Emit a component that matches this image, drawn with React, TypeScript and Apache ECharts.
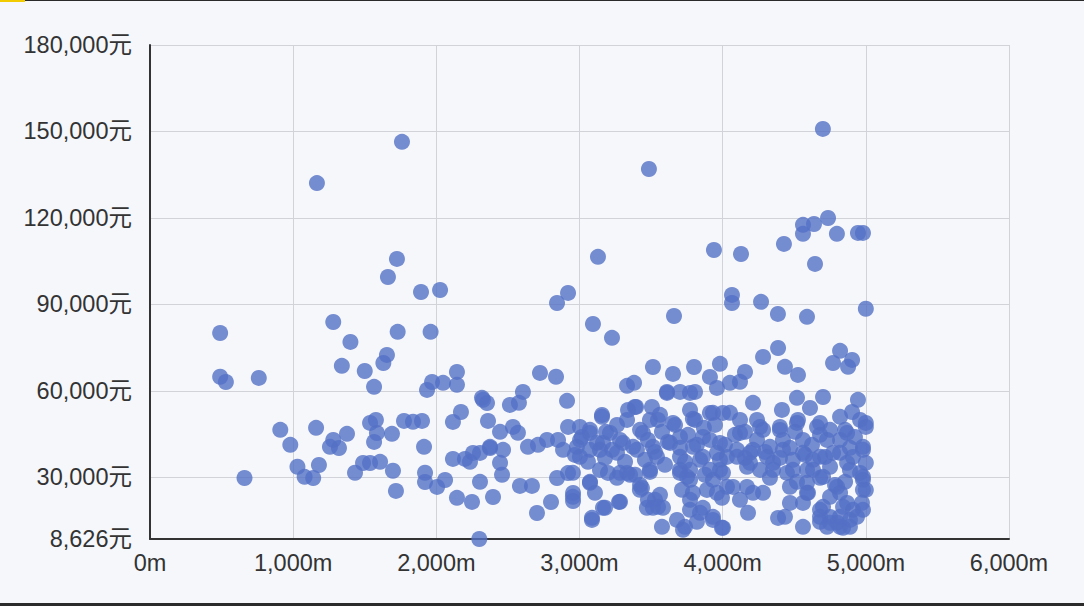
import React, { useEffect, useRef } from "react";
import * as echarts from "echarts";

// [distance (m), salary (元)]
const pointsUnder2000: number[][] = [
  [490, 80100], [490, 64900], [530, 63100], [760, 64500], [660, 29800], [910, 46500], [980, 41300],
  [1030, 33700], [1080, 30200], [1140, 29800], [1180, 34300], [1160, 47200], [1166, 132100], [1280, 83900],
  [1400, 77000], [1340, 68700], [1500, 66900], [1630, 69700], [1655, 72500], [1730, 80500], [1960, 80500],
  [1565, 61400], [1280, 43000], [1257, 40600], [1320, 40200], [1376, 45100], [1537, 48900], [1578, 49950],
  [1585, 45400], [1565, 42300], [1690, 45100], [1432, 31600], [1488, 35000], [1537, 35000], [1607, 35400],
  [1697, 32300], [1718, 25300], [1774, 49600], [1837, 49300], [1900, 49600], [1914, 40600], [1921, 31600],
  [1921, 28400], [1935, 60350], [1970, 63100], [1760, 146400], [1725, 105800], [1662, 99500], [1893, 94300],
];

const points2000to3000: number[][] = [
  [2005, 26700], [2061, 29100], [2144, 22900], [2249, 21500], [2300, 8626], [2305, 28450], [2396, 23200],
  [2047, 62800], [2144, 66600], [2144, 62100], [2319, 57600], [2354, 55800], [2172, 52700], [2116, 49250],
  [2361, 49600], [2116, 36400], [2200, 36400], [2256, 38500], [2305, 38500], [2375, 40200], [2235, 35400],
  [2026, 95000], [2843, 90500], [2920, 94000], [2724, 66250], [2836, 64900], [2605, 59650], [2514, 55150],
  [2577, 55850], [2913, 56550], [2326, 56900], [2920, 47500], [2773, 43000], [2710, 41300], [2640, 40600],
  [2466, 39550], [2375, 40600], [2445, 45800], [2535, 47500], [2570, 45450], [2885, 39550], [2445, 35050],
  [2459, 30900], [2584, 27050], [2668, 27050], [2703, 17650], [2801, 21450], [2843, 29800], [2920, 31500],
  [2955, 24600], [2955, 21800], [2850, 43000], [2968, 37800], [2954, 23250], [2954, 31570], [2982, 40590],
];

const points3000to4000: number[][] = [
  [3004, 43000], [3073, 46500], [3073, 39550], [3094, 83200], [3227, 78400], [3660, 86000], [3485, 137000],
  [3129, 106500], [3939, 108900], [3513, 68300], [3653, 65900], [3800, 68300], [3981, 69400], [3911, 64850],
  [3960, 61050], [3332, 61750], [3381, 62800], [3611, 59650], [3702, 59650], [3807, 59650], [3395, 54450],
  [3506, 54450], [3157, 51000], [3332, 49950], [3792, 50300], [3932, 52400], [3073, 28450], [3108, 24650],
  [3087, 15250], [3178, 19450], [3276, 21500], [3199, 31550], [3332, 31550], [3436, 26350], [3492, 31900],
  [3562, 23950], [3513, 19450], [3583, 19450], [3576, 12850], [3681, 15250], [3723, 11800], [3702, 31550],
  [3772, 29150], [3792, 24650], [3890, 25650], [3772, 18750], [3842, 17700], [3932, 15250], [3932, 29150],
  [3960, 38500], [3017, 44050], [3122, 41950], [3185, 45800], [3227, 39550], [3283, 43000], [3374, 40600],
  [3423, 46500], [3478, 43000], [3527, 38850], [3576, 45800], [3618, 42300], [3667, 48200], [3702, 40250],
  [3758, 44750], [3820, 41300], [3869, 47200], [3911, 43000], [3842, 36100], [3737, 35400], [3597, 34350],
  [3457, 36100], [3318, 35400], [3178, 36750], [3059, 35400], [3262, 48200], [3492, 49950], [3772, 53400],
  [3562, 51700], [3339, 53400], [3946, 48200], [3876, 30900], [3995, 22900], [3772, 22200], [3478, 22200],
  [3388, 30900], [3262, 29850], [3423, 27400], [3143, 32600], [3981, 32600],
];

const denseBand3000to4000: number[][] = [
  [3164, 19430], [3087, 15960], [3283, 21510], [3422, 25670], [3527, 22210], [3471, 19430], [3548, 19780],
  [3737, 12840], [3862, 19430], [3820, 14580], [3932, 16310], [3995, 12500], [3716, 25670], [3751, 30180],
  [3702, 32610], [3960, 24630], [3073, 28100], [3283, 31570], [3353, 30880], [3492, 32610], [3387, 54460],
  [3611, 59310], [3772, 59310], [3157, 51680], [3548, 49950], [3653, 48910], [3807, 49950], [3911, 52380],
  [3003, 47520], [3073, 45440], [3213, 45440], [3443, 45440], [3702, 44050], [3862, 44050], [3981, 41970],
  [3164, 41970], [3304, 41970], [3513, 40590], [3632, 41970], [3793, 40590], [3003, 37120], [3143, 39550],
  [3262, 38510], [3401, 39550], [3541, 37120], [3702, 37120], [3862, 37120], [3981, 36080], [3772, 32610],
  [3911, 32610],
];

const points4000to5000: number[][] = [
  [4002, 12500], [4128, 107500], [4428, 111000], [4561, 117600], [4561, 114500], [4638, 117900],
  [4736, 120000], [4798, 114500], [4945, 114800], [4980, 114800], [4645, 104050], [4065, 93300], [4065, 90500],
  [4268, 90900], [4386, 86700], [4589, 85700], [5000, 88500], [4700, 150900], [4051, 62800], [4051, 52400],
  [4387, 74900], [4282, 71800], [4435, 68350], [4526, 65550], [4820, 73900], [4771, 69700], [4904, 70750],
  [4876, 68350], [4156, 66600], [4121, 63150], [4519, 57600], [4701, 57900], [4945, 56900], [4212, 55850],
  [4414, 53400], [4610, 54100], [4820, 51000], [4904, 52700], [4960, 49950], [5000, 47500], [4240, 49950],
  [4156, 45800], [4282, 46500], [4400, 47500], [4526, 49950], [4680, 48900], [4750, 46500], [4855, 46500],
  [4980, 40600], [4561, 43000], [4421, 43000], [4330, 40600], [4212, 39550], [4100, 39550], [4030, 37100],
  [4191, 35050], [4352, 35050], [4491, 36100], [4631, 36100], [4771, 38500], [4910, 37100], [5000, 35050],
  [4261, 32600], [4449, 31550], [4589, 32600], [4701, 30200], [4960, 31550], [4072, 26700], [4170, 26700],
  [4212, 24650], [4121, 22200], [4282, 24650], [4177, 17700], [4470, 21150], [4561, 21150], [4596, 24650],
  [4785, 27400], [4820, 24650], [4680, 18750], [4750, 16300], [4869, 21150], [4910, 18750], [4889, 15250],
  [4799, 14250], [5000, 25650], [4980, 29150], [4387, 15950], [4561, 12850], [4680, 14600], [4729, 12850],
  [4841, 12500], [4980, 18750], [4820, 12850], [4750, 14250], [4589, 24650], [4016, 41300], [4086, 44750],
  [4121, 49950], [4240, 43000], [4296, 38850], [4470, 40250], [4505, 45800], [4624, 41300], [4680, 44750],
  [4820, 43000], [4889, 40250], [4924, 44050], [4715, 37100], [4575, 37800], [4400, 36750], [4156, 36750],
  [4330, 29850], [4519, 28450], [4889, 32600], [4855, 28450],
];

const denseBand4000to5000: number[][] = [
  [4030, 26710], [4002, 31570], [4002, 52380], [4121, 45440], [4261, 47520], [4400, 46480], [4519, 48910],
  [4659, 47520], [4729, 43010], [4869, 45440], [5000, 48910], [4100, 37120], [4191, 38510], [4310, 37120],
  [4421, 39550], [4561, 38510], [4680, 37120], [4820, 38510], [4980, 39550], [4170, 33650], [4352, 32610],
  [4491, 32610], [4631, 32610], [4750, 33650], [4869, 35040], [4980, 30180], [4470, 26710], [4589, 28100],
  [4680, 29840], [4799, 26710], [4980, 25670], [4701, 19780], [4750, 23250], [4841, 19780], [4435, 16310],
  [4680, 16310], [4820, 16310], [4889, 12840], [4938, 16310], [4973, 21170],
];

const xMin = 0;
const xMax = 6000;
const xInterval = 1000;
const yMin = 8626;
const yMax = 180000;

const FONT = "'Liberation Sans', Arial, 'Noto Sans CJK SC', sans-serif";

export default function App() {
  const ref = useRef<HTMLDivElement>(null);

  useEffect(() => {
    if (!ref.current) return;
    const chart = echarts.init(ref.current, undefined, { renderer: "svg" });
    const data = [
      ...pointsUnder2000,
      ...points2000to3000,
      ...points3000to4000,
      ...denseBand3000to4000,
      ...points4000to5000,
      ...denseBand4000to5000,
    ];
    chart.setOption({
      animation: false,
      backgroundColor: "#f5f7fb",
      grid: { left: 150, right: 75, top: 45, bottom: 67, containLabel: false },
      xAxis: {
        type: "value",
        min: xMin,
        max: xMax,
        interval: xInterval,
        axisLine: { show: true, lineStyle: { color: "#333", width: 2 } },
        axisTick: { show: false },
        splitLine: { show: true, lineStyle: { color: "#d2d3d8", width: 1 } },
        axisLabel: {
          color: "#333",
          fontSize: 23.5,
          fontFamily: FONT,
          margin: 12,
          formatter: (v: number) => v.toLocaleString("en-US") + "m",
        },
      },
      yAxis: {
        type: "value",
        min: yMin,
        max: yMax,
        splitNumber: 6,
        axisLine: { show: true, lineStyle: { color: "#333", width: 2 } },
        axisTick: { show: false },
        splitLine: { show: true, lineStyle: { color: "#d2d3d8", width: 1 } },
        axisLabel: {
          color: "#333",
          fontSize: 23.5,
          fontFamily: FONT,
          margin: 18,
          formatter: (v: number) => v.toLocaleString("en-US") + "元",
        },
      },
      series: [
        {
          type: "scatter",
          data,
          symbolSize: 16,
          itemStyle: { color: "#5470c6", opacity: 0.8 },
        },
      ],
      graphic: [
        { type: "rect", left: 0, top: 0, shape: { width: 1084, height: 1 }, style: { fill: "#2a2a2a" } },
        { type: "rect", left: 0, top: 0, shape: { width: 25, height: 2 }, style: { fill: "#f2cc00" } },
        { type: "rect", left: 0, top: 603, shape: { width: 1084, height: 3 }, style: { fill: "#2b2b2b" } },
      ],
    });
    return () => chart.dispose();
  }, []);

  return (
    <div
      ref={ref}
      style={{ position: "fixed", left: 0, top: 0, width: 1084, height: 606 }}
    />
  );
}
